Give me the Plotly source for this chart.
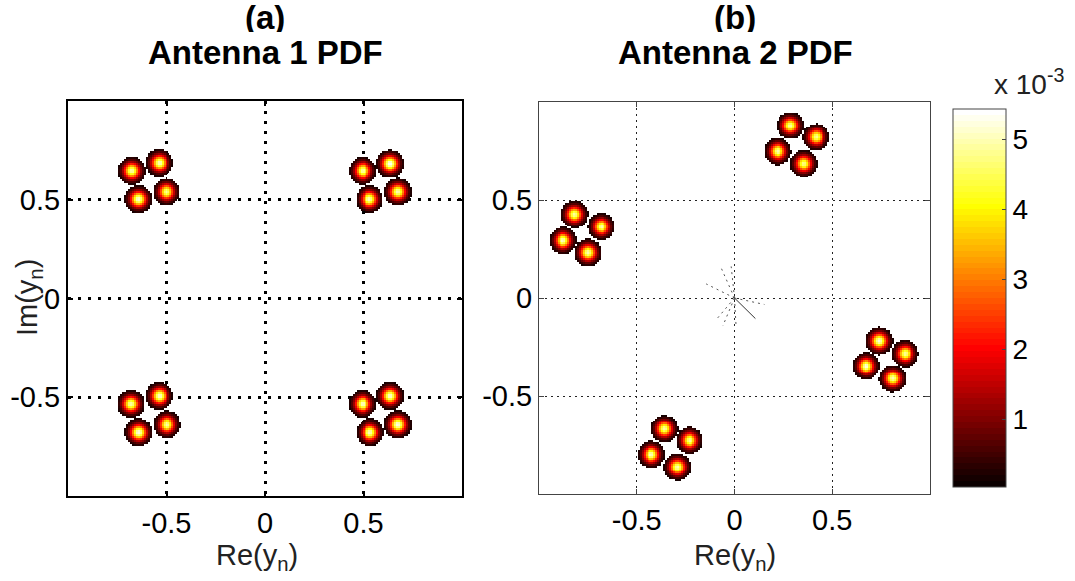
import numpy as np
import plotly.graph_objects as go

# ---------------- data ----------------
# Antenna 1: centres of the 16 PDF blobs (Re, Im) and their peak density
a_re = [-0.676, -0.537, -0.643, -0.500,
        0.496, 0.635, 0.530, 0.674,
        -0.680, -0.537, -0.642, -0.498,
        0.495, 0.635, 0.533, 0.674]
a_im = [0.646, 0.685, 0.504, 0.541,
        0.646, 0.681, 0.504, 0.541,
        -0.535, -0.495, -0.677, -0.638,
        -0.535, -0.495, -0.677, -0.638]
a_peak = [5.0e-3, 5.1e-3, 5.2e-3, 4.9e-3,
          5.0e-3, 5.4e-3, 5.1e-3, 5.0e-3,
          5.0e-3, 5.2e-3, 5.3e-3, 5.0e-3,
          5.1e-3, 5.2e-3, 5.1e-3, 5.3e-3]

# Antenna 2: centres of the 16 PDF blobs and their peak density
b_re = [0.286, 0.417, 0.221, 0.354,
        -0.818, -0.681, -0.877, -0.750,
        0.741, 0.872, 0.673, 0.809,
        -0.358, -0.230, -0.426, -0.293]
b_im = [0.880, 0.821, 0.748, 0.686,
        0.427, 0.364, 0.293, 0.232,
        -0.220, -0.284, -0.347, -0.411,
        -0.668, -0.727, -0.798, -0.862]
b_peak = [4.9e-3, 4.8e-3, 5.0e-3, 4.8e-3,
          4.9e-3, 5.0e-3, 5.1e-3, 5.0e-3,
          5.2e-3, 4.9e-3, 5.3e-3, 5.0e-3,
          4.9e-3, 4.9e-3, 5.1e-3, 5.0e-3]

blob_sigma = 0.027          # spread of each blob
z_min, z_max = 0.04e-3, 5.43e-3
z_visible = 0.18e-3         # below this the bin is empty (white)

# small segments drawn near the origin of panel (b)
seg_solid_re = [0.0, 0.107]
seg_solid_im = [0.0, -0.105]
seg_dot_end_re = [0.153, -0.145, -0.068, -0.017, -0.088, -0.060, 0.008]
seg_dot_end_im = [-0.033, 0.072, 0.153, 0.161, -0.104, -0.143, -0.143]

tick_vals = [-0.5, 0, 0.5]
tick_text = ["-0.5", "0", "0.5"]
cbar_vals = [1e-3, 2e-3, 3e-3, 4e-3, 5e-3]
cbar_text = ["1", "2", "3", "4", "5"]

# ---------------- density grids ----------------
grid = np.round(np.arange(-1.0, 1.0001, 0.01), 4)
GX, GY = np.meshgrid(grid, grid)


def density(res, ims, peaks):
    z = np.zeros_like(GX)
    for cx, cy, p in zip(res, ims, peaks):
        g = p * np.exp(-((GX - cx) ** 2 + (GY - cy) ** 2) / (2 * blob_sigma ** 2))
        z = np.maximum(z, g)
    z = np.where(z < z_visible, np.nan, z)
    return z


za = density(a_re, a_im, a_peak)
zb = density(b_re, b_im, b_peak)

# MATLAB-like 'hot' colormap with 64 bands
N = 64
hot = []
for i in range(N):
    k = i + 1
    r = min(1.0, k / 24)
    g = min(1.0, max(0.0, (k - 24) / 24))
    b = min(1.0, max(0.0, (k - 48) / 16))
    c = "rgb(%d,%d,%d)" % (round(r * 255), round(g * 255), round(b * 255))
    hot.append([i / N, c])
    hot.append([(i + 1) / N, c])

W, H = 1075, 581
def px(x):
    return x / W
def py(y):
    return 1 - y / H

FONT = "Liberation Sans, Arial, sans-serif"

fig = go.Figure()
fig.add_trace(go.Heatmap(x=grid, y=grid, z=za, colorscale=hot, zmin=z_min, zmax=z_max,
                         showscale=False, xaxis="x", yaxis="y", hoverongaps=False))
fig.add_trace(go.Heatmap(
    x=grid, y=grid, z=zb, colorscale=hot, zmin=z_min, zmax=z_max,
    xaxis="x2", yaxis="y2", hoverongaps=False,
    colorbar=dict(x=px(943), xanchor="left", y=py(298), yanchor="middle",
                  len=398 / H, lenmode="fraction", thickness=53, thicknessmode="pixels",
                  outlinewidth=1, outlinecolor="#444",
                  tickvals=cbar_vals, ticktext=cbar_text, ticks="inside", ticklen=4,
                  tickcolor="#444", tickfont=dict(size=28, family=FONT, color="black"),
                  ticklabelposition="outside")))

# segments near origin in (b)
fig.add_trace(go.Scatter(x=seg_solid_re, y=seg_solid_im, mode="lines",
                         line=dict(color="#333", width=1), xaxis="x2", yaxis="y2",
                         showlegend=False, hoverinfo="skip"))
for ex, ey in zip(seg_dot_end_re, seg_dot_end_im):
    fig.add_trace(go.Scatter(x=[0.0, ex], y=[0.0, ey], mode="lines",
                             line=dict(color="#555", width=1, dash="2px,4px"),
                             xaxis="x2", yaxis="y2", showlegend=False, hoverinfo="skip"))

tickfont = dict(size=29, family=FONT, color="black")
ax_a = dict(range=[-1, 1], tickvals=tick_vals, ticktext=tick_text, showgrid=True,
            gridcolor="black", gridwidth=2.5, griddash="3px,7px", zeroline=False,
            showline=True, linecolor="black", linewidth=2, mirror="ticks",
            ticks="inside", ticklen=5, tickcolor="black", tickwidth=2, tickfont=tickfont)
ax_b = dict(range=[-1, 1], tickvals=tick_vals, ticktext=tick_text, showgrid=True,
            gridcolor="#222", gridwidth=1, griddash="2px,4px", zeroline=False,
            showline=True, linecolor="#444", linewidth=1, mirror="ticks",
            ticks="inside", ticklen=5, tickcolor="#444", tickwidth=1, tickfont=tickfont)

fig.update_layout(
    width=W, height=H, margin=dict(l=0, r=0, t=0, b=0),
    paper_bgcolor="white", plot_bgcolor="white", showlegend=False,
    font=dict(family=FONT, color="black"),
    xaxis=dict(ax_a, domain=[px(68), px(462)], anchor="y"),
    yaxis=dict(ax_a, domain=[py(496), py(101)], anchor="x"),
    xaxis2=dict(ax_b, domain=[px(539), px(930)], anchor="y2"),
    yaxis2=dict(ax_b, domain=[py(494), py(102)], anchor="x2"),
)

annots = [
    dict(text="<b>(a)</b>", x=px(265), y=py(17)),
    dict(text="<b>Antenna 1 PDF</b>", x=px(265), y=py(52)),
    dict(text="<b>(b)</b>", x=px(735), y=py(17)),
    dict(text="<b>Antenna 2 PDF</b>", x=px(735), y=py(52)),
]
for a in annots:
    fig.add_annotation(xref="paper", yref="paper", showarrow=False,
                       xanchor="center", yanchor="middle", height=30, valign="middle",
                       font=dict(size=33, family=FONT, color="black"), **a)

for xc in (257, 735):
    fig.add_annotation(xref="paper", yref="paper", showarrow=False, x=px(xc), y=py(557),
                       xanchor="center", yanchor="middle", text="Re(y<sub>n</sub>)",
                       height=34, valign="middle",
                       font=dict(size=29, family=FONT, color="#222"))
fig.add_annotation(xref="paper", yref="paper", showarrow=False, x=px(29), y=py(298),
                   xanchor="center", yanchor="middle", text="Im(y<sub>n</sub>)", textangle=-90,
                   font=dict(size=29, family=FONT, color="#222"))
fig.add_annotation(xref="paper", yref="paper", showarrow=False, x=px(992), y=py(82),
                   xanchor="left", yanchor="middle", text="x 10<sup>-3</sup>",
                   font=dict(size=28, family=FONT, color="#222"))

fig.write_html("out.html")
